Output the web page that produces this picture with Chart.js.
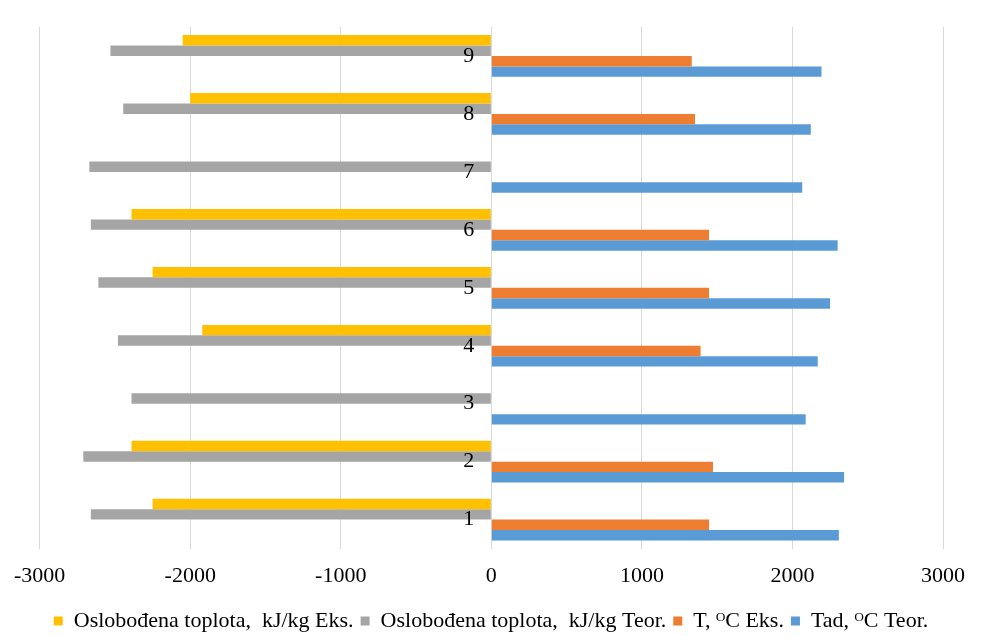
<!DOCTYPE html>
<html>
<head>
<meta charset="utf-8">
<script src="https://cdn.jsdelivr.net/npm/chart.js@4.4.1/dist/chart.umd.min.js"></script>
<style>
    html, body { margin: 0; padding: 0; background: #fff; }
    #wrap { width: 989px; height: 636px; }
</style>
</head>
<body>
<div id="wrap"><canvas id="toplota"></canvas></div>
<script>
var categories = ['1', '2', '3', '4', '5', '6', '7', '8', '9'];
var xTicks = [-3000, -2000, -1000, 0, 1000, 2000, 3000];

// left side (negative) - kJ/kg
var toplotaEks = [-2250, -2390, null, -1920, -2250, -2390, null, -2000, -2050];
var toplotaTeor = [-2660, -2710, -2390, -2480, -2610, -2660, -2670, -2445, -2530];
// right side - temperature
var tempEks = [1446, 1472, null, 1390, 1446, 1446, null, 1353, 1331];
var tempTeor = [2308, 2343, 2088, 2168, 2250, 2300, 2065, 2122, 2193];

var serif = "'Liberation Serif', 'Times New Roman', serif";

var ctx = document.getElementById('toplota').getContext('2d');
var chart = new Chart(ctx, {
    type: 'bar',
    data: {
        labels: categories,
        datasets: [{
            label: 'Oslobođena toplota,  kJ/kg Eks.',
            backgroundColor: '#FFC000',
            data: toplotaEks
        }, {
            label: 'Oslobođena toplota,  kJ/kg Teor.',
            backgroundColor: '#A5A5A5',
            data: toplotaTeor
        }, {
            label: 'T, ᴼC Eks.',
            backgroundColor: '#ED7D31',
            data: tempEks
        }, {
            label: 'Tad, ᴼC Teor.',
            backgroundColor: '#5B9BD5',
            data: tempTeor
        }]
    },
    options: {
        indexAxis: 'y',
        responsive: true,
        maintainAspectRatio: false,
        animation: false,
        barPercentage: 1,
        categoryPercentage: 0.72,
        layout: {
            padding: { left: 39, right: 46, top: 27, bottom: -6 }
        },
        scales: {
            x: {
                min: -3000,
                max: 3000,
                afterBuildTicks: function (axis) {
                    axis.ticks = xTicks.map(function (v) { return { value: v }; });
                },
                grid: { color: '#D9D9D9', lineWidth: 1, drawTicks: false },
                border: { display: false },
                ticks: {
                    padding: 14,
                    color: '#000',
                    font: { family: serif, size: 22 },
                    callback: function (v) { return String(v); }
                }
            },
            y: {
                type: 'category',
                reverse: true,
                // labels sit just left of the zero line, on top of the bars
                position: { x: -113 },
                grid: { display: false },
                border: { display: false },
                ticks: {
                    z: 1,
                    color: '#000',
                    font: { family: serif, size: 22 }
                }
            }
        },
        plugins: {
            legend: {
                position: 'bottom',
                labels: {
                    boxWidth: 9,
                    boxHeight: 9,
                    padding: 7,
                    color: '#000',
                    font: { family: serif, size: 22 }
                }
            },
            tooltip: { enabled: false }
        }
    }
});
</script>
</body>
</html>
